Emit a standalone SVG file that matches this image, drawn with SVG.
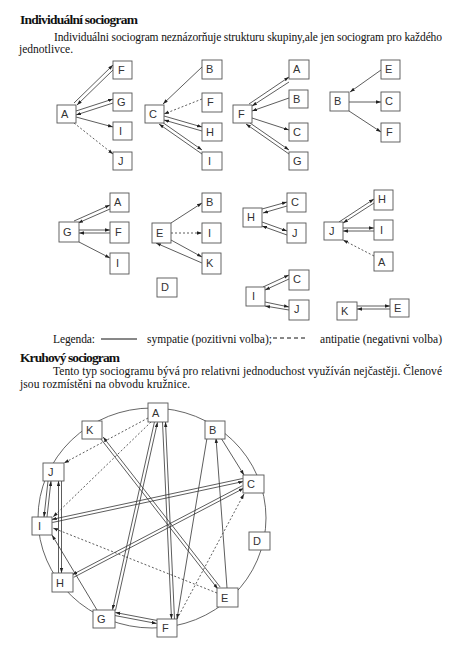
<svg xmlns="http://www.w3.org/2000/svg" width="468" height="666" viewBox="0 0 468 666">
<style>
.t{font-family:"Liberation Serif","Times New Roman",serif;font-size:11.5px;fill:#111}
.h{font-family:"Liberation Serif","Times New Roman",serif;font-size:13.5px;font-weight:bold;fill:#111}
.n rect{fill:#fff;stroke:#555;stroke-width:0.9}
.n text{font-family:"Liberation Sans",Arial,sans-serif;font-size:11px;fill:#333}
.e line{stroke:#333;stroke-width:0.8;marker-end:url(#ah)}
.e line.d{stroke-dasharray:2,2}
</style>
<defs>
<marker id="ah" viewBox="0 0 6 4" refX="6" refY="2" markerWidth="5" markerHeight="4" markerUnits="userSpaceOnUse" orient="auto"><path d="M0,0L6,2L0,4z" fill="#222"/></marker>
</defs>
<rect width="468" height="666" fill="#fff"/>
<text class="h" x="20" y="24" textLength="118">Individuální sociogram</text>
<text class="t" x="54" y="41" textLength="388">Individuálni sociogram neznázorňuje strukturu skupiny,ale jen sociogram pro každého</text>
<text class="t" x="19" y="53" textLength="54">jednotlivce.</text>

<g class="e" id="connectors-individual">
<line x1="74" y1="103" x2="113" y2="65"/><line x1="113" y1="70" x2="77" y2="105"/>
<line x1="76" y1="111" x2="113" y2="99"/><line x1="113" y1="103" x2="76" y2="115"/>
<line x1="76" y1="117" x2="113" y2="127"/>
<line class="d" x1="74" y1="123" x2="113" y2="154"/>
<line x1="202" y1="67" x2="163" y2="104"/>
<line class="d" x1="202" y1="99" x2="164" y2="114"/>
<line x1="164" y1="116" x2="202" y2="127"/><line x1="202" y1="131" x2="164" y2="120"/>
<line x1="162" y1="122" x2="202" y2="150"/><line x1="202" y1="154" x2="159" y2="124"/>
<line x1="249" y1="104" x2="289" y2="77"/><line x1="289" y1="82" x2="252" y2="106"/>
<line x1="289" y1="98" x2="252" y2="111"/>
<line x1="252" y1="118" x2="289" y2="130"/>
<line x1="250" y1="123" x2="289" y2="150"/><line x1="289" y1="154" x2="246" y2="124"/>
<line x1="381" y1="70" x2="350" y2="92"/>
<line x1="349" y1="102" x2="381" y2="102"/>
<line x1="349" y1="111" x2="381" y2="132"/>
<line x1="74" y1="221" x2="110" y2="205"/><line x1="110" y1="209" x2="78" y2="223"/>
<line x1="79" y1="230" x2="110" y2="230"/><line x1="110" y1="233" x2="79" y2="233"/>
<line x1="79" y1="242" x2="110" y2="258"/>
<line x1="171" y1="223" x2="202" y2="203"/>
<line class="d" x1="171" y1="233" x2="202" y2="233"/>
<line x1="171" y1="240" x2="202" y2="257"/><line x1="202" y1="263" x2="156" y2="243"/>
<line x1="262" y1="209" x2="287" y2="202"/><line x1="287" y1="206" x2="263" y2="213"/>
<line x1="262" y1="222" x2="287" y2="231"/><line x1="287" y1="235" x2="262" y2="226"/>
<line x1="339" y1="222" x2="374" y2="199"/><line x1="374" y1="203" x2="343" y2="223"/>
<line x1="343" y1="228" x2="374" y2="228"/><line x1="374" y1="231" x2="343" y2="231"/>
<line class="d" x1="374" y1="256" x2="343" y2="240"/>
<line x1="263" y1="287" x2="289" y2="275"/><line x1="289" y1="279" x2="265" y2="290"/>
<line x1="265" y1="302" x2="289" y2="307"/><line x1="289" y1="310" x2="265" y2="306"/>
<line x1="357" y1="306" x2="390" y2="306"/><line x1="390" y1="309" x2="357" y2="309"/>
</g>

<g class="n" id="s1-A"><rect x="57" y="105" width="19" height="18"/><text x="61" y="118">A</text></g>
<g class="n" id="s1-F"><rect x="113" y="61" width="19" height="18"/><text x="118" y="74">F</text></g>
<g class="n" id="s1-G"><rect x="113" y="93" width="19" height="18"/><text x="117" y="106">G</text></g>
<g class="n" id="s1-I"><rect x="113" y="122" width="19" height="18"/><text x="119" y="135">I</text></g>
<g class="n" id="s1-J"><rect x="113" y="152" width="19" height="18"/><text x="118" y="165">J</text></g>

<g class="n" id="s2-C"><rect x="145" y="105" width="19" height="18"/><text x="149" y="118">C</text></g>
<g class="n" id="s2-B"><rect x="202" y="60" width="20" height="19"/><text x="206" y="73">B</text></g>
<g class="n" id="s2-F"><rect x="202" y="93" width="20" height="19"/><text x="207" y="106">F</text></g>
<g class="n" id="s2-H"><rect x="202" y="123" width="20" height="18"/><text x="206" y="136">H</text></g>
<g class="n" id="s2-I"><rect x="202" y="152" width="20" height="18"/><text x="208" y="165">I</text></g>

<g class="n" id="s3-F"><rect x="233" y="105" width="19" height="18"/><text x="238" y="118">F</text></g>
<g class="n" id="s3-A"><rect x="289" y="60" width="20" height="19"/><text x="293" y="73">A</text></g>
<g class="n" id="s3-B"><rect x="289" y="90" width="19" height="18"/><text x="293" y="103">B</text></g>
<g class="n" id="s3-C"><rect x="289" y="123" width="19" height="18"/><text x="293" y="136">C</text></g>
<g class="n" id="s3-G"><rect x="289" y="152" width="19" height="18"/><text x="293" y="165">G</text></g>

<g class="n" id="s4-B"><rect x="330" y="92" width="19" height="19"/><text x="334" y="105">B</text></g>
<g class="n" id="s4-E"><rect x="381" y="60" width="19" height="19"/><text x="385" y="73">E</text></g>
<g class="n" id="s4-C"><rect x="381" y="92" width="19" height="19"/><text x="385" y="105">C</text></g>
<g class="n" id="s4-F"><rect x="381" y="123" width="19" height="19"/><text x="386" y="136">F</text></g>

<g class="n" id="s5-G"><rect x="59" y="222" width="20" height="20"/><text x="63" y="236">G</text></g>
<g class="n" id="s5-A"><rect x="110" y="193" width="19" height="19"/><text x="114" y="206">A</text></g>
<g class="n" id="s5-F"><rect x="110" y="222" width="19" height="21"/><text x="115" y="236">F</text></g>
<g class="n" id="s5-I"><rect x="110" y="253" width="19" height="21"/><text x="116" y="267">I</text></g>

<g class="n" id="s6-E"><rect x="152" y="223" width="19" height="20"/><text x="156" y="237">E</text></g>
<g class="n" id="s6-B"><rect x="202" y="193" width="19" height="19"/><text x="206" y="206">B</text></g>
<g class="n" id="s6-I"><rect x="202" y="223" width="19" height="20"/><text x="208" y="237">I</text></g>
<g class="n" id="s6-K"><rect x="202" y="253" width="19" height="21"/><text x="206" y="267">K</text></g>
<g class="n" id="s6-D"><rect x="157" y="278" width="20" height="19"/><text x="161" y="291">D</text></g>

<g class="n" id="s7-H"><rect x="243" y="208" width="19" height="19"/><text x="247" y="221">H</text></g>
<g class="n" id="s7-C"><rect x="287" y="193" width="19" height="19"/><text x="291" y="206">C</text></g>
<g class="n" id="s7-J"><rect x="287" y="223" width="19" height="20"/><text x="292" y="237">J</text></g>

<g class="n" id="s8-J"><rect x="324" y="222" width="19" height="18"/><text x="329" y="235">J</text></g>
<g class="n" id="s8-H"><rect x="374" y="190" width="19" height="20"/><text x="378" y="203">H</text></g>
<g class="n" id="s8-I"><rect x="374" y="220" width="19" height="20"/><text x="380" y="234">I</text></g>
<g class="n" id="s8-A"><rect x="374" y="252" width="19" height="19"/><text x="378" y="266">A</text></g>

<g class="n" id="s9-I"><rect x="246" y="287" width="19" height="19"/><text x="252" y="300">I</text></g>
<g class="n" id="s9-C"><rect x="289" y="270" width="20" height="20"/><text x="293" y="283">C</text></g>
<g class="n" id="s9-J"><rect x="289" y="300" width="20" height="20"/><text x="294" y="313">J</text></g>

<g class="n" id="s10-K"><rect x="337" y="302" width="20" height="18"/><text x="341" y="315">K</text></g>
<g class="n" id="s10-E"><rect x="390" y="299" width="19" height="18"/><text x="394" y="312">E</text></g>

<g id="legend">
<text class="t" x="53" y="343" textLength="42">Legenda:</text>
<line x1="101" y1="339" x2="137" y2="339" stroke="#111" stroke-width="1"/>
<text class="t" x="147" y="343" textLength="125">sympatie (pozitivni volba);</text>
<line x1="273" y1="338" x2="305" y2="338" stroke="#111" stroke-width="1" stroke-dasharray="4,3"/>
<text class="t" x="320" y="343" textLength="122">antipatie (negativni volba)</text>
</g>

<text class="h" x="20" y="362" textLength="100">Kruhový sociogram</text>
<text class="t" x="53" y="375" textLength="389">Tento typ sociogramu bývá pro relativni jednoduchost využíván nejčastěji. Členové</text>
<text class="t" x="20" y="388" textLength="170">jsou rozmístěni na obvodu kružnice.</text>

<ellipse cx="152" cy="518" rx="114" ry="110" fill="none" stroke="#555" stroke-width="0.9"/>

<g class="e" id="connectors-circle">
<line class="d" x1="148" y1="418" x2="64" y2="463"/>
<line class="d" x1="151" y1="422" x2="53" y2="517"/>
<line class="d" x1="217" y1="593" x2="53" y2="528"/>
<line class="d" x1="177" y1="619" x2="244" y2="494"/>
<line x1="100.8" y1="438.9" x2="217.8" y2="588.9"/><line x1="220.2" y1="587.1" x2="103.2" y2="437.1"/>
<line x1="162.5" y1="422" x2="171.5" y2="619"/><line x1="174.5" y1="619" x2="165.5" y2="422"/>
<line x1="154.5" y1="421.7" x2="112.5" y2="609.7"/><line x1="115.5" y1="610.3" x2="157.5" y2="422.3"/>
<line x1="242.7" y1="478.5" x2="51.7" y2="519.5"/><line x1="52.3" y1="522.5" x2="243.3" y2="481.5"/>
<line x1="242.3" y1="485.7" x2="72.3" y2="574.7"/><line x1="73.7" y1="577.3" x2="243.7" y2="488.3"/>
<line x1="114.7" y1="615.5" x2="156.7" y2="623.5"/><line x1="157.3" y1="620.5" x2="115.3" y2="612.5"/>
<line x1="61.5" y1="481" x2="61.5" y2="573"/><line x1="58.5" y1="573" x2="58.5" y2="481"/>
<line x1="48" y1="481" x2="44" y2="517"/><line x1="47" y1="517" x2="51" y2="481"/>
<line x1="207" y1="438" x2="177" y2="619"/>
<line x1="227" y1="588" x2="216" y2="438"/>
<line x1="221" y1="438" x2="244" y2="475"/>
<line x1="97" y1="610" x2="52" y2="535"/>
</g>

<g class="n" id="c-A"><rect x="148" y="403" width="20" height="19"/><text x="152" y="417">A</text></g>
<g class="n" id="c-K"><rect x="82" y="421" width="20" height="18"/><text x="86" y="434">K</text></g>
<g class="n" id="c-B"><rect x="205" y="421" width="20" height="18"/><text x="209" y="434">B</text></g>
<g class="n" id="c-J"><rect x="43" y="463" width="21" height="18"/><text x="48" y="476">J</text></g>
<g class="n" id="c-I"><rect x="32" y="517" width="20" height="18"/><text x="38" y="530">I</text></g>
<g class="n" id="c-C"><rect x="243" y="475" width="21" height="18"/><text x="247" y="488">C</text></g>
<g class="n" id="c-D"><rect x="249" y="532" width="21" height="18"/><text x="253" y="545">D</text></g>
<g class="n" id="c-H"><rect x="52" y="573" width="21" height="19"/><text x="56" y="587">H</text></g>
<g class="n" id="c-E"><rect x="217" y="588" width="21" height="19"/><text x="221" y="602">E</text></g>
<g class="n" id="c-G"><rect x="93" y="610" width="22" height="18"/><text x="97" y="623">G</text></g>
<g class="n" id="c-F"><rect x="157" y="619" width="20" height="18"/><text x="162" y="632">F</text></g>
</svg>
